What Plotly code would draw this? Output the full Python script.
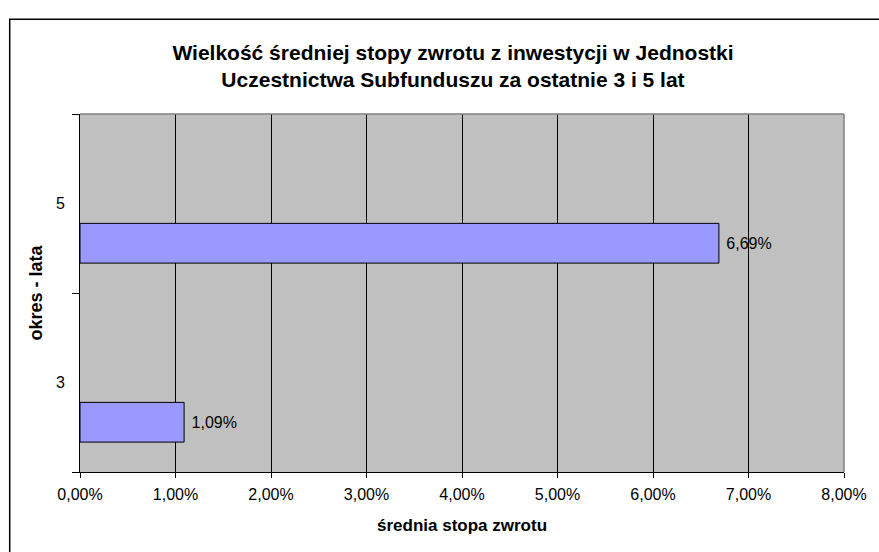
import plotly.graph_objects as go

periods = ["3", "5"]
avg_return = [0.0109, 0.0669]

TITLE = ("<b>Wielkość średniej stopy zwrotu z inwestycji w Jednostki<br>"
         "Uczestnictwa Subfunduszu za ostatnie 3 i 5 lat</b>")
FONT = "Liberation Sans, Arial, sans-serif"

fig = go.Figure()
fig.add_trace(go.Bar(
    x=avg_return, y=periods,
    orientation="h",
    width=0.222, offset=-0.333,
    marker=dict(color="#9999FF", line=dict(color="black", width=1)),
    texttemplate=" %{x:.2%}",
    textposition="outside",
    textfont=dict(size=16, color="black", family=FONT),
    cliponaxis=False,
    hoverinfo="skip",
))

fig.update_xaxes(
    range=[0, 0.08], dtick=0.01, tickformat=".2%",
    showgrid=True, gridcolor="black", gridwidth=1,
    showline=True, linecolor="black", linewidth=1,
    ticks="outside", ticklen=5, tickcolor="black",
    tickfont=dict(size=16, color="black", family=FONT),
    ticklabelstandoff=3,
    zeroline=False,
    title=dict(text="<b>średnia stopa zwrotu</b>", standoff=16,
               font=dict(size=17, color="black", family=FONT)),
)
fig.update_yaxes(
    type="category", range=[-0.5, 1.5],
    tickson="boundaries", showgrid=False,
    showline=True, linecolor="black", linewidth=1,
    ticks="outside", ticklen=7, tickcolor="black",
    tickfont=dict(size=16, color="black", family=FONT),
    ticklabelstandoff=11,
    title=dict(text="<b>okres - lata</b>", standoff=8,
               font=dict(size=18, color="black", family=FONT)),
)

# plot area right/top border (gray) and the outer chart frame
fig.add_shape(type="line", xref="paper", yref="paper", x0=0, x1=1, y0=1, y1=1,
              line=dict(color="#808080", width=1.5))
fig.add_shape(type="line", xref="paper", yref="paper", x0=1, x1=1, y0=0, y1=1,
              line=dict(color="#808080", width=1.5))
fig.add_shape(type="rect", xref="paper", yref="paper",
              x0=-0.092, x1=1.2, y0=-0.6, y1=1.265,
              line=dict(color="black", width=1.5), layer="below")

fig.update_layout(
    width=879, height=552,
    margin=dict(l=80, r=27, t=114, b=80),
    paper_bgcolor="white", plot_bgcolor="#C0C0C0",
    separators=", ",
    showlegend=False,
    font=dict(family=FONT, color="black"),
    title=dict(text=TITLE, x=453 / 879, xanchor="center", xref="container",
               y=1 - 60 / 552, yanchor="middle", yref="container",
               font=dict(size=21, color="black", family=FONT)),
)

fig.write_html("out.html", config={"displayModeBar": False},
               post_script="document.body.style.margin='0';")
